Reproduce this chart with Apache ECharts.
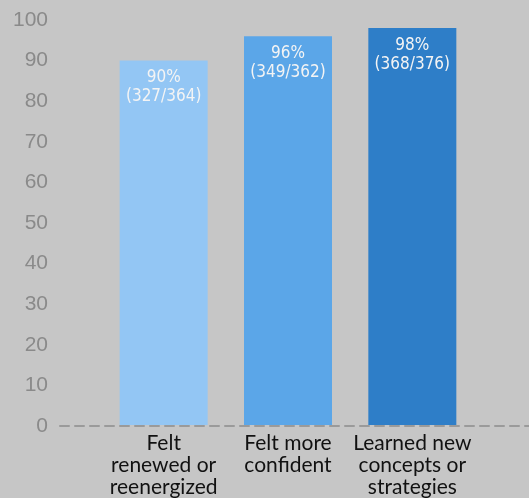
<!DOCTYPE html>
<html>
<head>
<meta charset="utf-8">
<script src="https://cdn.jsdelivr.net/npm/echarts@6/dist/echarts.min.js"></script>
<style>
  html, body { margin: 0; padding: 0; background: #c6c6c6; }
  #chart { width: 529px; height: 498px; }
</style>
</head>
<body>
<div id="chart"></div>
<script>
var categories = ['Felt\nrenewed or\nreenergized', 'Felt more\nconfident', 'Learned new\nconcepts or\nstrategies']
var percents = [90, 96, 98]
var counts = ['327/364', '349/362', '368/376']
var barColors = ['#93c6f4', '#5ba6e8', '#2e7ec8']

var chart = echarts.init(document.getElementById('chart'))
var options = {
  backgroundColor: '#c6c6c6',
  animation: false,
  grid: [
    // wide grid: y axis labels and dashed baseline
    { left: 60, right: 0, top: 20, bottom: 72 },
    // narrow grid: the bars
    { left: 101.5, right: 54.5, top: 20, bottom: 72 }
  ],
  xAxis: [
    {
      gridIndex: 0,
      type: 'category',
      data: [''],
      axisLine: { lineStyle: { color: '#9a9a9a', type: [9, 6], width: 2 } },
      axisTick: { show: false },
      axisLabel: { show: false }
    },
    {
      gridIndex: 1,
      type: 'category',
      data: categories,
      axisLine: { show: false },
      axisTick: { show: false },
      axisLabel: {
        color: '#111',
        fontFamily: 'Lato',
        fontSize: 21,
        lineHeight: 22,
        margin: 7,
        interval: 0
      }
    }
  ],
  yAxis: [
    {
      gridIndex: 0,
      type: 'value',
      min: 0,
      max: 100,
      interval: 10,
      axisLine: { show: false },
      axisTick: { show: false },
      splitLine: { show: false },
      axisLabel: {
        color: '#8a8a8a',
        fontFamily: 'Liberation Sans',
        fontSize: 21,
        margin: 12
      }
    },
    {
      gridIndex: 1,
      type: 'value',
      min: 0,
      max: 100,
      show: false
    }
  ],
  series: [
    {
      type: 'bar',
      xAxisIndex: 1,
      yAxisIndex: 1,
      barWidth: 88,
      data: percents.map(function (v, i) {
        return { value: v, itemStyle: { color: barColors[i] } }
      }),
      label: {
        show: true,
        position: 'insideTop',
        distance: 8,
        color: '#f4f4f4',
        fontFamily: '"DejaVu Sans Condensed", sans-serif',
        fontSize: 17,
        lineHeight: 19,
        formatter: function (p) {
          return p.value + '%\n(' + counts[p.dataIndex] + ')'
        }
      }
    }
  ]
}
chart.setOption(options)
</script>
</body>
</html>
